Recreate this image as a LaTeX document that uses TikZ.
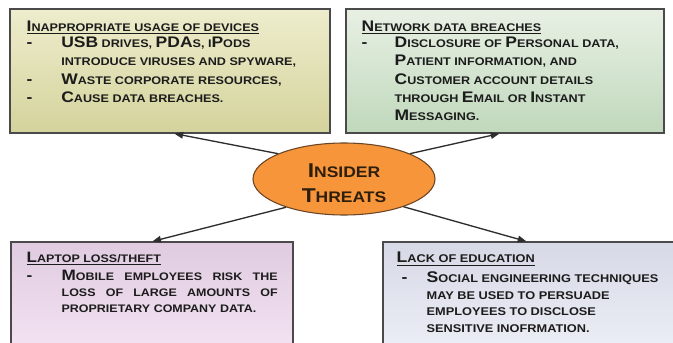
\documentclass[tikz,border=0pt]{standalone}
\usepackage{fontspec}
\setmainfont{Liberation Sans}[FakeStretch=1.14]
\usepackage{tikz}
\usetikzlibrary{arrows.meta, shapes.geometric}

\definecolor{inktext}{HTML}{1C1C1C}
\definecolor{boxline}{HTML}{4A4A4A}
\definecolor{arrowline}{HTML}{2E2E2E}
\definecolor{threatfill}{HTML}{F7953B}
\definecolor{threatline}{HTML}{6B4423}
\definecolor{threattext}{HTML}{2E1E0C}

% lower-case letters drawn as smaller capitals
\newcommand{\lcsize}{8.3}
\newcommand{\lc}[1]{{\fontsize{\lcsize}{\lcsize}\selectfont #1}}

\begin{document}
\begin{tikzpicture}[x=0.75pt, y=-0.75pt, >={Triangle[length=6.5pt, width=5pt]},
    card/.style={draw=boxline, line width=0.9pt, inner sep=0pt},
    lc size/.code={\def\lcsize{#1}},
    blurb/.style={inner sep=0pt, anchor=north west, align=left, text=inktext},
    link/.style={->, draw=arrowline, line width=1pt}]

  \clip (0,0) rectangle (673,342);
  \fill[white] (0,0) rectangle (673,342);

  \node[card, top color={rgb,255:red,238;green,237;blue,205}, bottom color={rgb,255:red,212;green,211;blue,156},
        minimum width=240pt, minimum height=93pt] (devices) at (170,71) {};
  \node[card, top color={rgb,255:red,232;green,240;blue,228}, bottom color={rgb,255:red,192;green,216;blue,188},
        minimum width=238.5pt, minimum height=93pt] (breach) at (505,71) {};
  \node[card, top color={rgb,255:red,224;green,203;blue,224}, bottom color={rgb,255:red,244;green,229;blue,244},
        minimum width=211.5pt, minimum height=87pt] (laptop) at (152,300) {};
  \node[card, top color={rgb,255:red,214;green,217;blue,230}, bottom color={rgb,255:red,238;green,240;blue,247},
        minimum width=230.25pt, minimum height=87pt] (education) at (536.5,300) {};

  \node[blurb, font=\bfseries\fontsize{11.5}{13.7}\selectfont] (devicestext) at ([shift={(17,12.5)}]devices.north west) {%
    \underline{I\lc{NAPPROPRIATE USAGE OF DEVICES}}\\[-1.7pt]
    \makebox[26pt][l]{-}USB\lc{ DRIVES, }PDA\lc{S, I}P\lc{ODS}\\
    \hspace*{26pt}\lc{INTRODUCE VIRUSES AND SPYWARE,}\\
    \makebox[26pt][l]{-}W\lc{ASTE CORPORATE RESOURCES,}\\
    \makebox[26pt][l]{-}C\lc{AUSE DATA BREACHES.}};

  \node[blurb, font=\bfseries\fontsize{11.5}{13.7}\selectfont] (breachtext) at ([shift={(16,12.5)}]breach.north west) {%
    \underline{N\lc{ETWORK DATA BREACHES}}\\[-1.7pt]
    \makebox[24.75pt][l]{-}D\lc{ISCLOSURE OF }P\lc{ERSONAL DATA,}\\
    \hspace*{24.75pt}P\lc{ATIENT INFORMATION, AND}\\
    \hspace*{24.75pt}C\lc{USTOMER ACCOUNT DETAILS}\\
    \hspace*{24.75pt}\lc{THROUGH }E\lc{MAIL OR }I\lc{NSTANT}\\
    \hspace*{24.75pt}M\lc{ESSAGING.}};

  \node[blurb, lc size=8.2, font=\bfseries\fontsize{11.3}{12}\selectfont] (laptoptext) at ([shift={(16,10.6)}]laptop.north west) {%
    \underline{L\lc{APTOP LOSS/THEFT}}\\[1.5pt]
    \makebox[26.25pt][l]{-}\makebox[162pt][s]{M\lc{OBILE EMPLOYEES RISK THE}}\\
    \hspace*{26.25pt}\makebox[162pt][s]{\lc{LOSS OF LARGE AMOUNTS OF}}\\
    \hspace*{26.25pt}\lc{PROPRIETARY COMPANY DATA.}};

  \node[blurb, lc size=8.4, font=\bfseries\fontsize{11.6}{12.4}\selectfont] (educationtext) at ([shift={(14,10.5)}]education.north west) {%
    \underline{L\lc{ACK OF EDUCATION}}\\[2.6pt]
    \hspace*{3.75pt}\makebox[18.75pt][l]{-}S\lc{OCIAL ENGINEERING TECHNIQUES}\\
    \hspace*{22.5pt}\lc{MAY BE USED TO PERSUADE}\\
    \hspace*{22.5pt}\lc{EMPLOYEES TO DISCLOSE}\\
    \hspace*{22.5pt}\lc{SENSITIVE INOFRMATION.}};

  \node[ellipse, draw=threatline, line width=0.8pt, fill=threatfill, minimum width=136.5pt, minimum height=54pt,
        inner sep=0pt, align=center, text=threattext, lc size=11.5,
        font=\bfseries\fontsize{15}{18.75}\selectfont] (threats) at (344,179)
        {\rule{0pt}{17.25pt}I\lc{NSIDER}\\T\lc{HREATS}};

  \draw[link] (threats.159) -- ([shift={(165,0)}]devices.south west);
  \draw[link] (threats.21) -- ([shift={(154,0)}]breach.south west);
  \draw[link] (threats.206) -- ([shift={(142,0)}]laptop.north west);
  \draw[link] (threats.335) -- ([shift={(144,0)}]education.north west);
\end{tikzpicture}
\end{document}
